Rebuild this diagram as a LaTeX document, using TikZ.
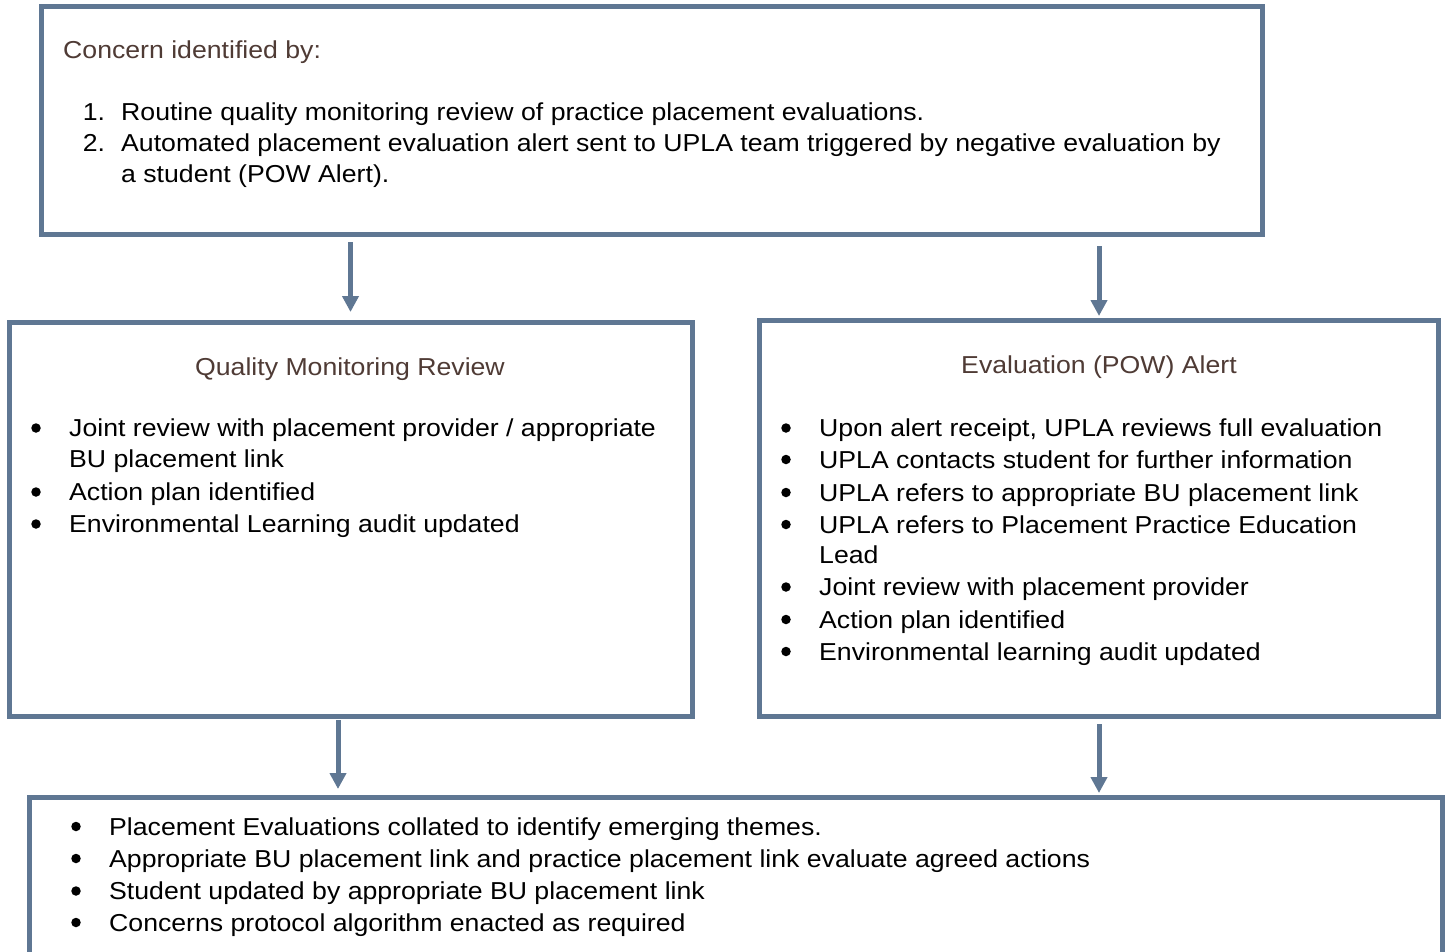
\documentclass[tikz,border=0pt]{standalone}
\usepackage{fontspec}
\setmainfont{Liberation Sans}[FakeStretch=1.088]
\usetikzlibrary{arrows.meta}
\definecolor{bordercol}{HTML}{5F7793}
\definecolor{headcol}{HTML}{4F3B35}
\newcommand\fsz{\fontsize{24.5}{31}\selectfont}
\begin{document}
\begin{tikzpicture}[x=1pt,y=-1pt,
  every node/.style={font=\fsz},
  box/.style={draw=bordercol, line width=5pt, inner sep=0pt, outer sep=0pt, anchor=north west},
  txt/.style={anchor=base west, inner sep=0pt},
  head/.style={anchor=base, inner sep=0pt, text=headcol},
  bul/.style={circle, fill=black, inner sep=0pt, minimum size=9.5pt, yshift=8.5pt},
  arr/.style={draw=bordercol, line width=5pt, -{Triangle[width=16pt,length=16pt]}}]
\useasboundingbox[fill=white] (0,0) rectangle (1448,951);
% boxes
\node[box, minimum width=1221pt, minimum height=227.5pt] (top) at (41,6.5) {};
\node[box, minimum width=683pt, minimum height=394pt] (lbox) at (9,322) {};
\node[box, minimum width=679.5pt, minimum height=396pt] (rbox) at (759,320) {};
\node[box, minimum width=1413pt, minimum height=200pt] (bbox) at (29,797) {};
% top text
\node[txt, text=headcol] (t0) at (63,58.3) {Concern identified by:};
\node[txt] (n1) at (82.7,120) {1.};
\node[txt] (t1) at (121,120) {Routine quality monitoring review of practice placement evaluations.};
\node[txt] (n2) at (82.7,151) {2.};
\node[txt] (t2) at (121,151) {Automated placement evaluation alert sent to UPLA team triggered by negative evaluation by};
\node[txt] (t3) at (121,182) {a student (POW Alert).};
% left box
\node[head] (lh) at (350,375) {Quality Monitoring Review};
\node[bul] (lb1) at (36,436.5) {};
\node[txt] (l1) at (69,436.5) {Joint review with placement provider / appropriate};
\node[txt] (l1b) at (69,467.5) {BU placement link};
\node[bul] (lb2) at (36,500.5) {};
\node[txt] (l2) at (69,500.5) {Action plan identified};
\node[bul] (lb3) at (36,532.5) {};
\node[txt] (l3) at (69,532.5) {Environmental Learning audit updated};
% right box
\node[head] (rh) at (1099,373) {Evaluation (POW) Alert};
\node[bul] (rb1) at (786,436.5) {};
\node[txt] (r1) at (819,436.5) {Upon alert receipt, UPLA reviews full evaluation};
\node[bul] (rb2) at (786,468) {};
\node[txt] (r2) at (819,468) {UPLA contacts student for further information};
\node[bul] (rb3) at (786,501) {};
\node[txt] (r3) at (819,501) {UPLA refers to appropriate BU placement link};
\node[bul] (rb4) at (786,533) {};
\node[txt] (r4) at (819,533) {UPLA refers to Placement Practice Education};
\node[txt] (r4b) at (819,563) {Lead};
\node[bul] (rb5) at (786,595.5) {};
\node[txt] (r5) at (819,595.5) {Joint review with placement provider};
\node[bul] (rb6) at (786,628) {};
\node[txt] (r6) at (819,628) {Action plan identified};
\node[bul] (rb7) at (786,660) {};
\node[txt] (r7) at (819,660) {Environmental learning audit updated};
% bottom box
\node[bul] (bb1) at (76,835) {};
\node[txt] (b1) at (109,835) {Placement Evaluations collated to identify emerging themes.};
\node[bul] (bb2) at (76,867) {};
\node[txt] (b2) at (109,867) {Appropriate BU placement link and practice placement link evaluate agreed actions};
\node[bul] (bb3) at (76,899.5) {};
\node[txt] (b3) at (109,899.5) {Student updated by appropriate BU placement link};
\node[bul] (bb4) at (76,931) {};
\node[txt] (b4) at (109,931) {Concerns protocol algorithm enacted as required};
% arrows
\coordinate (a1s) at (350.5,242);
\coordinate (a1e) at (350.5,312);
\coordinate (a2s) at (1099,246);
\coordinate (a2e) at (1099,316);
\coordinate (a3s) at (338,720);
\coordinate (a3e) at (338,789);
\coordinate (a4s) at (1099,724);
\coordinate (a4e) at (1099,793);
\draw[arr] (a1s) -- (a1e);
\draw[arr] (a2s) -- (a2e);
\draw[arr] (a3s) -- (a3e);
\draw[arr] (a4s) -- (a4e);
\end{tikzpicture}
\end{document}
